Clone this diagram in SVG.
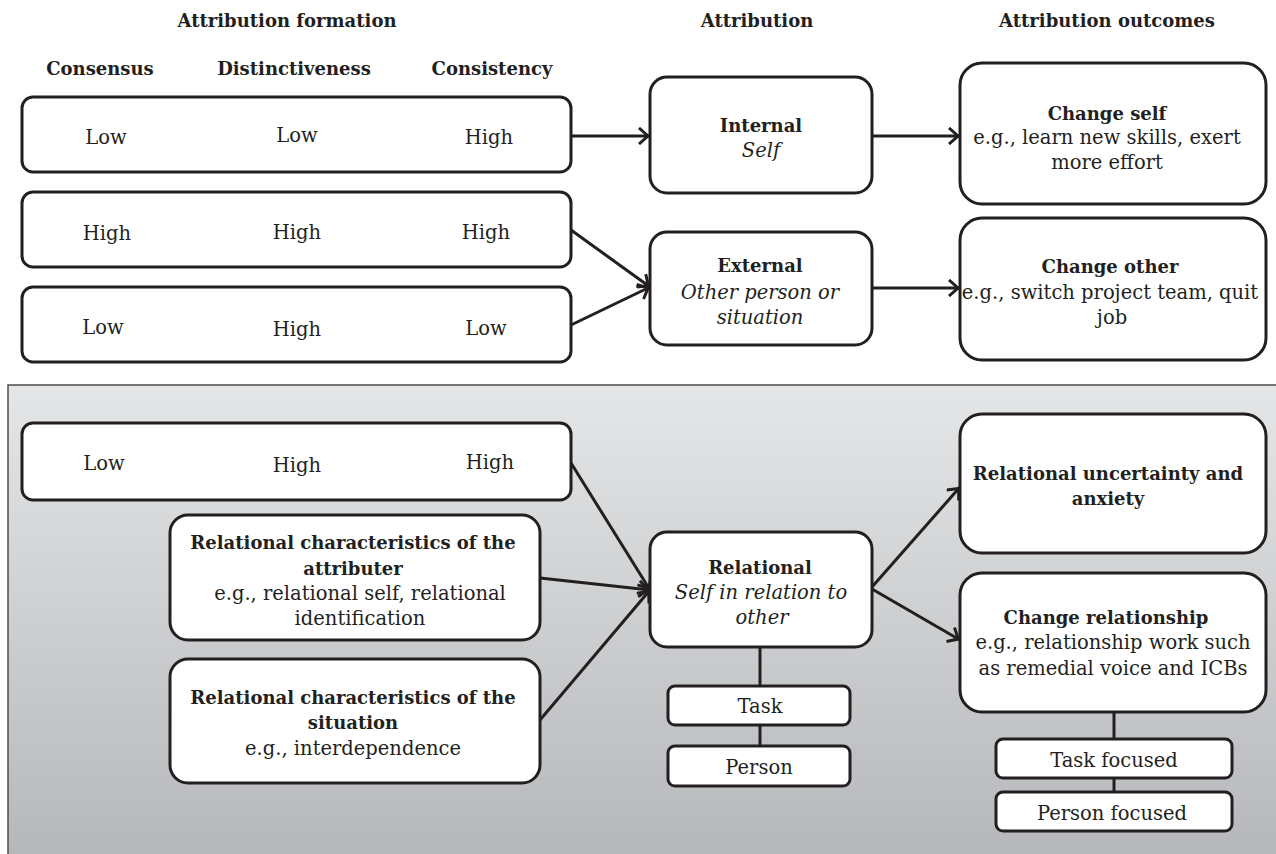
<svg xmlns="http://www.w3.org/2000/svg" width="1276" height="854" viewBox="0 0 1276 854">
<defs>
<linearGradient id="bg" x1="0" y1="0" x2="0" y2="1">
<stop offset="0" stop-color="#e5e6e7"/>
<stop offset="1" stop-color="#b6b7ba"/>
</linearGradient>
<marker id="ah" markerUnits="userSpaceOnUse" markerWidth="16" markerHeight="18" refX="13" refY="9" orient="auto" viewBox="0 0 16 18">
<path d="M2,1 L11,9 L2,17" fill="none" stroke="#231f20" stroke-width="3" stroke-linejoin="miter"/>
</marker>
<style>
text{font-family:"DejaVu Serif","Liberation Serif",serif;font-size:19.5px;fill:#231f20;text-anchor:middle}
.b{font-weight:bold;font-size:18px}
.i{font-style:italic}
.box{fill:#fff;stroke:#231f20;stroke-width:3}
.ln{fill:none;stroke:#231f20;stroke-width:3}
</style>
</defs>
<rect width="1276" height="854" fill="#fff"/>
<g id="panel">
<rect x="8" y="385" width="1270" height="472" fill="url(#bg)"/>
<path d="M8,856 L8,385 L1278,385" fill="none" stroke="#4d4d4f" stroke-width="1.5"/>
</g>
<g id="headers">
<text class="b" x="287" y="27">Attribution formation</text>
<text class="b" x="757" y="27">Attribution</text>
<text class="b" x="1107" y="27">Attribution outcomes</text>
<text class="b" x="100" y="75">Consensus</text>
<text class="b" x="294" y="75">Distinctiveness</text>
<text class="b" x="492" y="75">Consistency</text>
</g>
<g id="connectors">
<line class="ln" x1="571" y1="136" x2="650" y2="136" marker-end="url(#ah)"/>
<line class="ln" x1="872" y1="136" x2="960" y2="136" marker-end="url(#ah)"/>
<line class="ln" x1="571" y1="230" x2="650" y2="287" marker-end="url(#ah)"/>
<line class="ln" x1="571" y1="325" x2="650" y2="287" marker-end="url(#ah)"/>
<line class="ln" x1="872" y1="288" x2="960" y2="288" marker-end="url(#ah)"/>
<line class="ln" x1="571" y1="463" x2="650" y2="590" marker-end="url(#ah)"/>
<line class="ln" x1="540" y1="578" x2="650" y2="590" marker-end="url(#ah)"/>
<line class="ln" x1="540" y1="720" x2="650" y2="590" marker-end="url(#ah)"/>
<line class="ln" x1="872" y1="587" x2="960" y2="487" marker-end="url(#ah)"/>
<line class="ln" x1="872" y1="589" x2="960" y2="640" marker-end="url(#ah)"/>
<line class="ln" x1="760" y1="647" x2="760" y2="686"/>
<line class="ln" x1="760" y1="725" x2="760" y2="746"/>
<line class="ln" x1="1114" y1="712" x2="1114" y2="739"/>
<line class="ln" x1="1114" y1="778" x2="1114" y2="792"/>
</g>
<g id="row1">
<rect class="box" x="22" y="97" width="549" height="75" rx="11"/>
<text x="106" y="144">Low</text><text x="297" y="142">Low</text><text x="489" y="144">High</text>
</g>
<g id="row2">
<rect class="box" x="22" y="192" width="549" height="75" rx="11"/>
<text x="107" y="240">High</text><text x="297" y="239">High</text><text x="486" y="239">High</text>
</g>
<g id="row3">
<rect class="box" x="22" y="287" width="549" height="75" rx="11"/>
<text x="103" y="334">Low</text><text x="297" y="336">High</text><text x="486" y="335">Low</text>
</g>
<g id="internal">
<rect class="box" x="650" y="77" width="222" height="116" rx="17"/>
<text class="b" x="761" y="132">Internal</text>
<text class="i" x="761" y="157">Self</text>
</g>
<g id="external">
<rect class="box" x="650" y="232" width="222" height="113" rx="17"/>
<text class="b" x="760" y="272">External</text>
<text class="i" x="760" y="299">Other person or</text>
<text class="i" x="760" y="324">situation</text>
</g>
<g id="changeself">
<rect class="box" x="960" y="63" width="306" height="141" rx="22"/>
<text class="b" x="1107" y="120">Change self</text>
<text x="1107" y="144">e.g., learn new skills, exert</text>
<text x="1107" y="169">more effort</text>
</g>
<g id="changeother">
<rect class="box" x="960" y="218" width="306" height="142" rx="22"/>
<text class="b" x="1110" y="273">Change other</text>
<text x="1110" y="299">e.g., switch project team, quit</text>
<text x="1112" y="324">job</text>
</g>
<g id="row4">
<rect class="box" x="22" y="423" width="549" height="77" rx="11"/>
<text x="104" y="470">Low</text><text x="297" y="472">High</text><text x="490" y="469">High</text>
</g>
<g id="attributer">
<rect class="box" x="170" y="515" width="370" height="125" rx="18"/>
<text class="b" x="353" y="549">Relational characteristics of the</text>
<text class="b" x="353" y="575">attributer</text>
<text x="360" y="600">e.g., relational self, relational</text>
<text x="360" y="625">identification</text>
</g>
<g id="situation">
<rect class="box" x="170" y="659" width="370" height="124" rx="18"/>
<text class="b" x="353" y="704">Relational characteristics of the</text>
<text class="b" x="353" y="729">situation</text>
<text x="353" y="755">e.g., interdependence</text>
</g>
<g id="relational">
<rect class="box" x="650" y="532" width="222" height="115" rx="17"/>
<text class="b" x="760" y="574">Relational</text>
<text class="i" x="761" y="599">Self in relation to</text>
<text class="i" x="762" y="624">other</text>
</g>
<g id="task">
<rect class="box" x="668" y="686" width="182" height="39" rx="7"/>
<text x="760" y="713">Task</text>
</g>
<g id="person">
<rect class="box" x="668" y="746" width="182" height="40" rx="7"/>
<text x="759" y="774">Person</text>
</g>
<g id="uncertainty">
<rect class="box" x="960" y="414" width="306" height="139" rx="22"/>
<text class="b" x="1108" y="480">Relational uncertainty and</text>
<text class="b" x="1108" y="505">anxiety</text>
</g>
<g id="changerel">
<rect class="box" x="960" y="573" width="306" height="139" rx="22"/>
<text class="b" x="1106" y="624">Change relationship</text>
<text x="1113" y="649">e.g., relationship work such</text>
<text x="1113" y="675">as remedial voice and ICBs</text>
</g>
<g id="taskfocused">
<rect class="box" x="996" y="739" width="236" height="39" rx="7"/>
<text x="1114" y="767">Task focused</text>
</g>
<g id="personfocused">
<rect class="box" x="996" y="792" width="236" height="39" rx="7"/>
<text x="1112" y="820">Person focused</text>
</g>
</svg>
